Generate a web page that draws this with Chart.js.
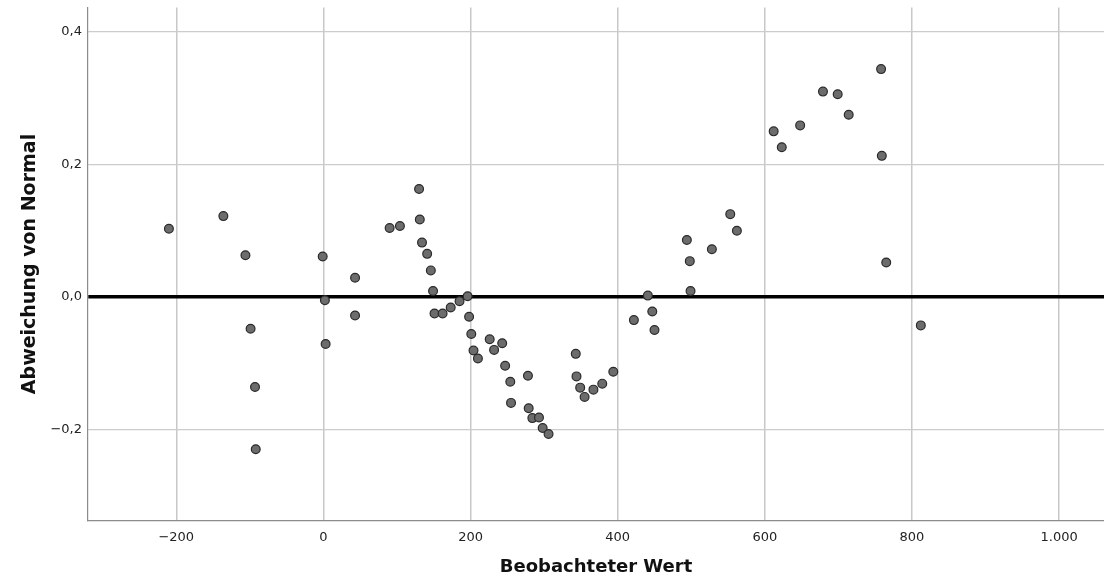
<!DOCTYPE html>
<html>
<head>
<meta charset="UTF-8">
<title>Trendbereinigtes Q-Q-Diagramm</title>
<script src="https://cdn.jsdelivr.net/npm/chart.js"></script>
<style>
body { margin: 0; background: #fff; }
</style>
</head>
<body>
<canvas id="myChart" width="1104" height="588"></canvas>
<script>
// beobachtete Werte (x) und Abweichung von der Normalverteilung (y)
const obsValues = [
  -210, -136, -106, -99, -93, -92, -1, 2, 3, 43, 43, 90, 104, 130, 131, 134,
  141, 146, 149, 151, 162, 173, 185, 196, 198, 201, 204, 210, 226, 232, 243,
  247, 254, 255, 278, 279, 284, 293, 298, 306, 343, 344, 349, 355, 367, 379,
  394, 422, 441, 447, 450, 494, 498, 499, 528, 553, 562, 612, 623, 648, 679,
  699, 714, 758, 759, 765, 812
];
const deviations = [
  0.103, 0.122, 0.063, -0.048, -0.136, -0.230, 0.061, -0.005, -0.071, 0.029, -0.028, 0.104, 0.107, 0.163, 0.117, 0.082,
  0.065, 0.040, 0.009, -0.025, -0.025, -0.016, -0.0065, 0.001, -0.030, -0.056, -0.081, -0.093, -0.064, -0.080, -0.070,
  -0.104, -0.128, -0.160, -0.119, -0.168, -0.183, -0.182, -0.198, -0.207, -0.086, -0.120, -0.137, -0.151, -0.140, -0.131,
  -0.113, -0.035, 0.002, -0.022, -0.050, 0.086, 0.054, 0.009, 0.072, 0.125, 0.100, 0.250, 0.226, 0.259, 0.310,
  0.306, 0.275, 0.344, 0.213, 0.052, -0.043
];

const xTicks = [-200, 0, 200, 400, 600, 800, 1000];
const yTicks = [-0.2, 0, 0.2, 0.4];
const xRange = [-320, 1061];
const yRange = [-0.3376, 0.437];
const refLine = 0; // Nulllinie

const points = obsValues.map((v, i) => ({ x: v, y: deviations[i] }));

function deNumber(v) {
  const a = Math.abs(Math.round(v)).toString().replace(/\B(?=(\d{3})+(?!\d))/g, '.');
  return (v < 0 ? '\u2212' : '') + a;
}

const ctx = document.getElementById('myChart').getContext('2d');
const myChart = new Chart(ctx, {
  type: 'scatter',
  data: {
    datasets: [{
      data: points,
      backgroundColor: '#6c6c6c',
      borderColor: '#2a2a2a',
      borderWidth: 1.2,
      pointRadius: 4.4,
      pointHoverRadius: 4.4
    }]
  },
  options: {
    responsive: false,
    animation: false,
    layout: { autoPadding: false, padding: { top: 7.5, right: 0, left: 0, bottom: 0 } },
    plugins: { legend: { display: false }, tooltip: { enabled: false } },
    scales: {
      x: {
        type: 'linear',
        min: xRange[0],
        max: xRange[1],
        afterBuildTicks: s => { s.ticks = xTicks.map(v => ({ value: v })); },
        afterFit: s => { s.height = 67.5; s.paddingLeft = 0; s.paddingRight = 0; },
        ticks: {
          padding: 9,
          color: '#222',
          font: { family: 'DejaVu Sans', size: 13 },
          maxRotation: 0,
          autoSkip: false,
          callback: v => deNumber(v)
        },
        grid: { color: '#c8c8c8', lineWidth: 1.5, drawTicks: false },
        border: { color: '#8c8c8c', width: 1.2 },
        title: {
          display: true,
          text: 'Beobachteter Wert',
          color: '#111',
          font: { family: 'DejaVu Sans', size: 18, weight: 'bold' },
          padding: { top: 0, bottom: 10 }
        }
      },
      y: {
        type: 'linear',
        min: yRange[0],
        max: yRange[1],
        afterBuildTicks: s => { s.ticks = yTicks.map(v => ({ value: v })); },
        afterFit: s => { s.width = 88; s.paddingTop = 0; s.paddingBottom = 0; },
        ticks: {
          padding: 6,
          color: '#222',
          font: { family: 'DejaVu Sans', size: 13 },
          autoSkip: false,
          callback: v => (v < -1e-9 ? '\u2212' : '') + Math.abs(v).toFixed(1).replace('.', ',')
        },
        grid: {
          drawTicks: false,
          color: c => Math.abs(c.tick.value - refLine) < 1e-9 ? '#000' : '#cccccc',
          lineWidth: c => Math.abs(c.tick.value - refLine) < 1e-9 ? 3.5 : 1.3
        },
        border: { color: '#8c8c8c', width: 1.2 },
        title: {
          display: true,
          text: 'Abweichung von Normal',
          color: '#111',
          font: { family: 'DejaVu Sans', size: 19, weight: 'bold' },
          padding: { top: 18.6, bottom: 0 }
        }
      }
    }
  }
});
</script>
</body>
</html>
